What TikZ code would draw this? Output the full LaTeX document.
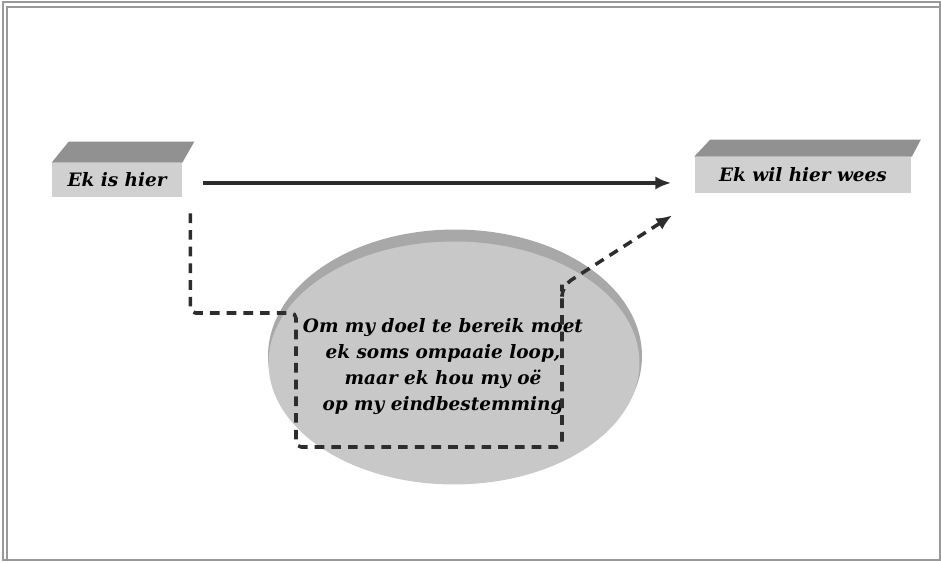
\documentclass[tikz,border=0pt]{standalone}
\usepackage{fontspec}
\setmainfont{DejaVu Serif}
\usepackage{tikz}
\usetikzlibrary{arrows.meta,positioning,shapes.geometric,calc}
\definecolor{voorvlak}{RGB}{208,208,208}
\definecolor{bovenvlak}{RGB}{145,145,145}
\definecolor{rand}{RGB}{168,168,168}
\definecolor{skyf}{RGB}{200,200,200}
\definecolor{lyn}{RGB}{45,45,45}
\tikzset{
    blok/.style={
        rectangle,
        fill=voorvlak,
        inner sep=0pt,
        font=\fontsize{10.5}{12}\selectfont\bfseries\itshape
    },
    dak/.style={fill=bovenvlak},
    pyl/.style={-{Latex[length=9pt,width=7.5pt]}, line width=2pt, draw=lyn},
    omweg/.style={-{Latex[length=9pt,width=7.5pt]}, line width=2pt, draw=lyn,
        dash pattern=on 5.5pt off 4pt},
    raam/.style={draw=gray!80, line width=0.7pt}
}
\begin{document}
\begin{tikzpicture}[x=0.02cm, y=-0.02cm]
    % raam
    \useasboundingbox (0,0) rectangle (941,563);
    \draw[raam] (3,2) rectangle (940,560);
    \draw[raam] (7,7) rectangle (940,560);

    % skyf
    \node[ellipse, fill=rand, minimum width=7.48cm, minimum height=5.06cm] (skyf) at (455,356) {};
    \node[ellipse, fill=skyf, minimum width=7.42cm, minimum height=4.86cm] (skyfbinne) at (454,363) {};

    % blokke
    \node[blok, minimum width=2.6cm, minimum height=0.68cm] (hier) at (117,180) {Ek is hier};
    \fill[dak] (hier.north west) -- ++(17,-21) -- ($(hier.north east)+(12,-21)$) -- (hier.north east) -- cycle;

    \node[blok, minimum width=4.34cm, minimum height=0.72cm] (wees) at (803,175) {Ek wil hier wees};
    \fill[dak] (wees.north west) -- ++(16,-17) -- ($(wees.north east)+(9,-17)$) -- (wees.north east) -- cycle;

    % teks
    \node[align=center, font=\fontsize{10.5}{14.8}\selectfont\bfseries\itshape] (doel) at (443,367)
        {Om my doel te bereik moet\\ek soms ompaaie loop,\\maar ek hou my oë\\op my eindbestemming};

    % pyle
    \coordinate (k1) at (296,313);
    \coordinate (k2) at (296,447);
    \coordinate (k3) at (562,447);
    \coordinate (k4) at (562,290);
    \draw[pyl] ([shift={(21,3)}]hier.east) -- ([shift={(-23,8)}]wees.west);
    \draw[omweg, rounded corners=3pt] ([shift={(8,16)}]hier.south east) |- (k1) -- (k2) -- (k3)
        -- (k4) [rounded corners=6pt] -- ++(0,-4) -- ([shift={(-22,22)}]wees.south west);
\end{tikzpicture}
\end{document}
